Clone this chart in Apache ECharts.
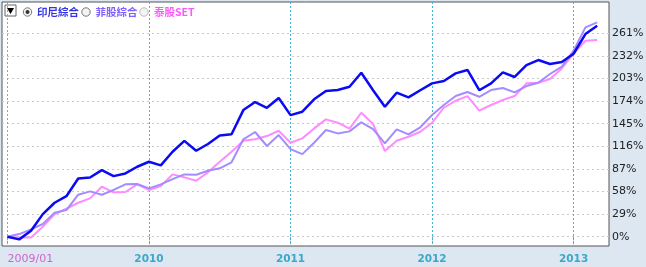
<!DOCTYPE html>
<html>
<head>
<meta charset="utf-8">
<script src="https://cdn.jsdelivr.net/npm/echarts@6/dist/echarts.min.js"></script>
<style>
html,body{margin:0;padding:0;background:#dde7f2;}
#c{width:646px;height:267px;}
</style>
</head>
<body>
<div id="c"></div>
<script>
// Monthly points from 2009/01 to 2013/03 (cumulative % change)
const seriesNames = ['印尼綜合', '菲股綜合', '泰股SET'];
const indonesia = [0,-3.4,7.7,29,43.6,52,74.8,76,85.5,77.8,81.2,89.8,96.2,91.5,109,123,110.3,119,130,131.4,162.5,172.8,165.5,178,156,160.4,176.3,187,188.2,192.5,210.5,188,166.8,184.8,178.8,188,196.8,199.8,209.6,214,188,196.8,211,205,220.3,226.7,221.6,224.2,234.8,260,270.8];
const philippines = [0,3.4,9.4,16.3,30.8,34.2,53.9,58.2,53.9,60,67.2,67.6,62.1,67.2,74,80,79.6,84.7,87.8,95.5,125,134.4,116.4,130.5,112.5,106,120.6,136.9,132.6,135.2,146.8,138.2,119.8,137.8,131.4,140.4,156.2,169,180.5,185.7,179.6,188.2,190.8,185.3,193.4,197.6,208.8,218.2,238.7,268.7,275];
const thailand = [0,-0.9,-0.9,12.8,29,35.9,43.6,49.2,64.2,57,57.4,67.2,60,65,80,76.2,71.9,82.6,96.2,109,123.2,125,129.2,136,120.6,126.2,139,150.6,146.3,138.6,159.1,144.6,110,123.2,128.3,134.7,146.3,165.5,174.5,180.5,161.7,169,175.4,180.5,196.8,197.6,202.4,216,235.3,251.5,252.4];
const xTickValues = [0, 12, 24, 36, 48];
const xTickLabels = ['2009/01', '2010', '2011', '2012', '2013'];
const yTickValues = [0, 29, 58, 87, 116, 145, 174, 203, 232, 261];

const toPairs = arr => arr.map((v, i) => [i, v]);
const colors = ['#0a0af5', '#a48cff', '#ff8cff'];
const widths = [2.5, 2, 2];
const data = [indonesia, philippines, thailand];

const chart = echarts.init(document.getElementById('c'), null, {renderer: 'canvas'});
const order = [2, 1, 0];
const option = {
  animation: false,
  backgroundColor: '#dde7f2',
  grid: {left: 2, right: 37, top: 2, bottom: 21, containLabel: false, outerBoundsMode: 'none', show: true, backgroundColor: '#ffffff', borderColor: '#555', borderWidth: 1},
  xAxis: {
    type: 'value', min: -0.46, max: 51,
    axisLine: {show: false},
    axisTick: {show: true, customValues: xTickValues, length: 6, lineStyle: {color: '#45b3d4', type: [2, 2], width: 1}},
    splitLine: {show: true, customValues: xTickValues, lineStyle: {color: ['#d27ae6', '#45b3d4', '#45b3d4', '#45b3d4', '#45b3d4'], type: [2, 2], width: 1}},
    axisLabel: {
      customValues: xTickValues, margin: 8, hideOverlap: false,
      formatter: v => { const k = xTickValues.indexOf(v); return k === 0 ? '{a|' + xTickLabels[k] + '}' : '{b|' + xTickLabels[k] + '}'; },
      rich: {
        a: {color: '#cc66cc', fontSize: 11, fontFamily: 'DejaVu Sans', padding: [0, 0, 0, 46]},
        b: {color: '#3aa8c8', fontSize: 10.5, fontWeight: 'bold', fontFamily: 'DejaVu Sans'}
      },
      align: 'center'
    }
  },
  yAxis: {
    type: 'value', position: 'right', min: -11.9, max: 301.2,
    axisLine: {show: false},
    axisTick: {show: false, customValues: yTickValues},
    splitLine: {show: true, customValues: yTickValues, lineStyle: {color: '#c8c8c8', type: [2, 3], width: 1}},
    axisLabel: {customValues: yTickValues, margin: 3, formatter: v => v + '%', color: '#222', fontSize: 11, fontFamily: 'DejaVu Sans'}
  },
  series: order.map(k => ({
    name: seriesNames[k], type: 'line', data: toPairs(data[k]), showSymbol: false, symbol: 'none',
    lineStyle: {color: colors[k], width: widths[k]}, itemStyle: {color: colors[k]}, z: 3 - k
  })),
  graphic: [
    {type: 'rect', shape: {x: 5, y: 5, width: 11, height: 11}, style: {fill: '#fff', stroke: '#666', lineWidth: 1}},
    {type: 'polygon', shape: {points: [[7, 8], [14, 8], [10.5, 14]]}, style: {fill: '#000'}},
    {type: 'circle', shape: {cx: 27.5, cy: 12, r: 4.2}, style: {fill: '#f4f4f4', stroke: '#777', lineWidth: 1}},
    {type: 'circle', shape: {cx: 27.5, cy: 12, r: 2}, style: {fill: '#333'}},
    {type: 'text', x: 37, y: 12, style: {text: seriesNames[0], fill: '#3434e6', fontSize: 10.5, fontWeight: 'bold', fontFamily: 'Noto Sans CJK TC', verticalAlign: 'middle'}},
    {type: 'circle', shape: {cx: 86, cy: 12, r: 4.2}, style: {fill: '#f4f4f4', stroke: '#777', lineWidth: 1}},
    {type: 'text', x: 95.5, y: 12, style: {text: seriesNames[1], fill: '#8060ff', fontSize: 10.5, fontWeight: 'bold', fontFamily: 'Noto Sans CJK TC', verticalAlign: 'middle'}},
    {type: 'circle', shape: {cx: 144, cy: 12, r: 4.2}, style: {fill: '#f4f4f4', stroke: '#bbb', lineWidth: 1}},
    {type: 'text', x: 154, y: 12, style: {text: seriesNames[2], fill: '#ff55ff', fontSize: 10.5, fontWeight: 'bold', fontFamily: 'Noto Sans CJK TC', verticalAlign: 'middle'}}
  ]
};
chart.setOption(option);
</script>
</body>
</html>
